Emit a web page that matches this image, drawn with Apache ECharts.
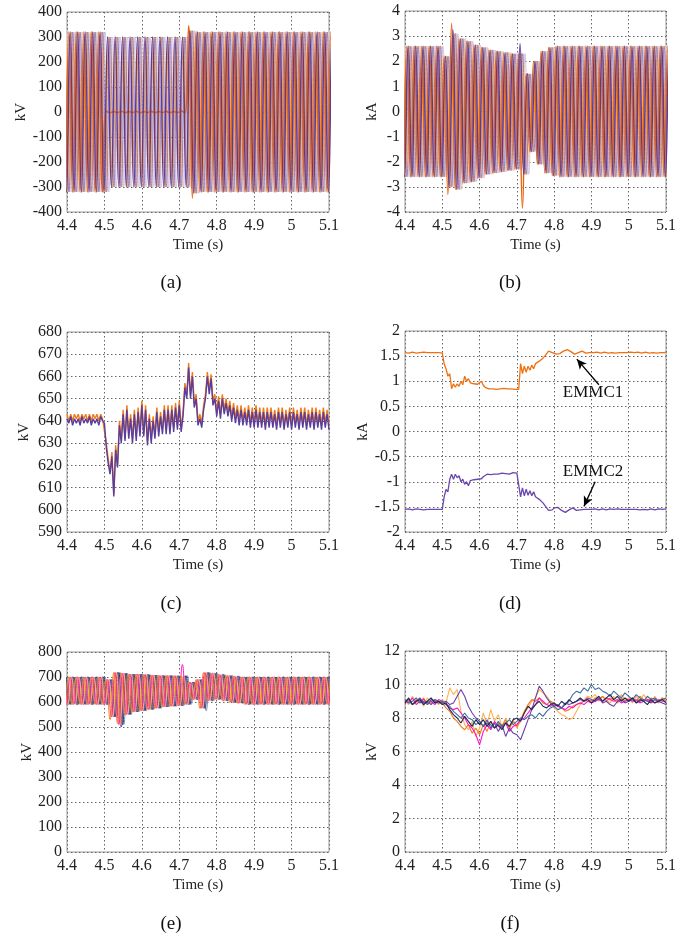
<!DOCTYPE html>
<html>
<head>
<meta charset="utf-8">
<script src="https://cdn.jsdelivr.net/npm/echarts@6/dist/echarts.min.js"></script>
<style>
  html, body { margin: 0; padding: 0; background: #fff; }
  #chart { width: 699px; height: 938px; }
</style>
</head>
<body>
<div id="chart"></div>
<script>
// ============================================
// Data
// ============================================
const xTicks = [4.4, 4.5, 4.6, 4.7, 4.8, 4.9, 5, 5.1];
const yTicksA = [-400, -300, -200, -100, 0, 100, 200, 300, 400];
const yTicksB = [-4, -3, -2, -1, 0, 1, 2, 3, 4];
const yTicksC = [590, 600, 610, 620, 630, 640, 650, 660, 670, 680];
const yTicksD = [-2, -1.5, -1, -0.5, 0, 0.5, 1, 1.5, 2];
const yTicksE = [0, 100, 200, 300, 400, 500, 600, 700, 800];
const yTicksF = [0, 2, 4, 6, 8, 10, 12];

// 50 Hz waveforms: peak values per cycle (35 cycles from 4.40 s to 5.10 s)
// (a) AC voltages, kV
const aPeak = [320, 320, 320, 320, 320, 300, 300, 300, 300, 300, 300, 300, 300, 300, 300, 300, 325,
    320, 320, 320, 320, 320, 320, 320, 320, 320, 320, 320, 320, 320, 320, 320, 320, 320, 320];
const aPeakFaulted = [320, 320, 320, 320, 320, 3, 2, 3, 2, 3, 2, 3, 2, 3, 2, 4, 345,
    320, 320, 320, 320, 320, 320, 320, 320, 320, 320, 320, 320, 320, 320, 320, 320, 320, 320];

// (b) AC currents, kA (upper / lower peaks per cycle)
const bUp = [2.6, 2.6, 2.6, 2.6, 2.6, 2.2, 3.1, 2.9, 2.8, 2.65, 2.55, 2.45, 2.4, 2.35, 2.3, 2.3, 1.5, 2.0, 2.4, 2.55,
    2.6, 2.6, 2.6, 2.6, 2.6, 2.6, 2.6, 2.6, 2.6, 2.6, 2.6, 2.6, 2.6, 2.6, 2.6];
const bLo = [-2.6, -2.6, -2.6, -2.6, -2.6, -3.0, -3.1, -2.85, -2.8, -2.65, -2.5, -2.45, -2.4, -2.35, -2.3, -2.5, -1.6, -2.1, -2.45, -2.55,
    -2.6, -2.6, -2.6, -2.6, -2.6, -2.6, -2.6, -2.6, -2.6, -2.6, -2.6, -2.6, -2.6, -2.6, -2.6];
const bUpOrange = [2.6, 2.6, 2.6, 2.6, 2.6, 2.2, 3.5, 2.9, 2.8, 2.65, 2.55, 2.45, 2.4, 2.35, 2.3, 2.3, 1.5, 2.0, 2.4, 2.55,
    2.6, 2.6, 2.6, 2.6, 2.6, 2.6, 2.6, 2.6, 2.6, 2.6, 2.6, 2.6, 2.6, 2.6, 2.6];
const bLoOrange = [-2.6, -2.6, -2.6, -2.6, -2.6, -3.3, -3.1, -2.85, -2.8, -2.65, -2.5, -2.45, -2.4, -2.35, -2.3, -3.85, -1.6, -2.1, -2.45, -2.55,
    -2.6, -2.6, -2.6, -2.6, -2.6, -2.6, -2.6, -2.6, -2.6, -2.6, -2.6, -2.6, -2.6, -2.6, -2.6];
const bUpPurple = [2.6, 2.6, 2.6, 2.6, 2.6, 2.2, 3.25, 2.9, 2.8, 2.65, 2.55, 2.45, 2.4, 2.35, 2.3, 2.7, 1.5, 2.0, 2.4, 2.55,
    2.6, 2.6, 2.6, 2.6, 2.6, 2.6, 2.6, 2.6, 2.6, 2.6, 2.6, 2.6, 2.6, 2.6, 2.6];

// (e) arm capacitor voltage sums, kV
const eUp = [700, 700, 700, 700, 700, 690, 718, 715, 712, 712, 710, 708, 706, 706, 705, 705, 680, 690, 718, 715, 710, 706, 703,
    700, 700, 700, 700, 700, 700, 700, 700, 700, 700, 700, 700];
const eLo = [590, 590, 590, 590, 590, 540, 510, 550, 560, 565, 570, 575, 580, 583, 585, 590, 610, 575, 605, 610, 605, 598, 595,
    590, 590, 590, 590, 590, 590, 590, 590, 590, 590, 590, 590];
const eUpMagenta = [700, 700, 700, 700, 700, 690, 718, 715, 712, 712, 710, 708, 706, 706, 705, 750, 680, 690, 718, 715, 710, 706, 703,
    700, 700, 700, 700, 700, 700, 700, 700, 700, 700, 700, 700];
const eLoPurple = [590, 590, 590, 590, 590, 540, 500, 550, 560, 565, 570, 575, 580, 583, 585, 590, 610, 575, 605, 610, 605, 598, 595,
    590, 590, 590, 590, 590, 590, 590, 590, 590, 590, 590, 590];
const eLoOrange = [590, 590, 590, 590, 590, 530, 515, 550, 560, 565, 570, 575, 580, 583, 585, 590, 610, 575, 605, 610, 605, 598, 595,
    590, 590, 590, 590, 590, 590, 590, 590, 590, 590, 590, 590];
const eLoSteel = [590, 590, 590, 590, 590, 540, 510, 550, 560, 565, 570, 575, 580, 583, 585, 590, 610, 565, 605, 610, 605, 598, 595,
    590, 590, 590, 590, 590, 590, 590, 590, 590, 590, 590, 590];

// (c) DC voltage, kV, every 5 ms
const cPurple = [641, 639, 642, 638, 641, 639, 641, 638, 642, 639, 641, 639, 642, 638, 641, 639, 641, 638, 642, 640,
    639, 628, 621, 616, 624, 606, 627, 619, 638, 630,
    643, 631, 645, 632, 641, 630, 643, 631, 644, 633,
    647, 633, 645, 629, 641, 630, 640, 632, 644, 633,
    642, 634, 645, 634, 645, 634, 645, 635, 646, 636,
    647, 635, 642, 655, 650, 664, 650, 660, 646, 650,
    638, 641, 637, 645, 650, 660, 652, 659, 647, 650,
    642, 649, 641, 650, 643, 648, 642, 647, 640, 646,
    639, 645, 638, 645, 638, 644, 638, 645, 637, 644,
    637, 645, 637, 644, 637, 644, 636, 644, 637, 644,
    637, 643, 636, 644, 637, 644, 636, 643, 637, 644,
    636, 644, 637, 643, 636, 644, 637, 644, 636, 643,
    637, 644, 636, 644, 637, 643, 636, 644, 637, 643, 636];
const cOrange = [643, 640, 643, 640, 643, 641, 643, 640, 643, 641, 643, 640, 643, 640, 643, 641, 643, 640, 643, 641,
    641, 630, 623, 617, 626, 607, 629, 620, 640, 632,
    645, 632, 647, 634, 643, 632, 645, 633, 646, 635,
    649, 634, 647, 631, 643, 632, 642, 634, 646, 635,
    644, 636, 647, 636, 647, 636, 647, 637, 648, 638,
    649, 637, 644, 657, 652, 666, 652, 662, 648, 652,
    640, 643, 639, 647, 652, 662, 654, 661, 649, 652,
    644, 651, 643, 652, 645, 650, 644, 649, 642, 648,
    641, 647, 640, 647, 640, 646, 640, 647, 639, 646,
    639, 647, 639, 646, 639, 646, 638, 646, 639, 646,
    639, 645, 638, 646, 639, 646, 638, 645, 639, 646,
    638, 646, 639, 645, 638, 646, 639, 646, 638, 645,
    639, 646, 638, 646, 639, 645, 638, 646, 639, 645, 638];

// (d) DC currents, kA, every 5 ms
const dEmmc1 = [1.57, 1.58, 1.56, 1.57, 1.58, 1.57, 1.56, 1.58, 1.57, 1.57, 1.58, 1.56, 1.57, 1.58, 1.57, 1.56, 1.57, 1.58, 1.57, 1.58,
    1.56, 1.35, 1.25, 1.10, 1.15, 0.85, 0.95, 0.88, 0.95, 0.90,
    1.00, 0.93, 1.10, 1.00, 1.05, 0.97, 1.00, 0.95, 0.96, 0.94,
    0.95, 1.00, 0.92, 0.88, 0.87, 0.85, 0.86, 0.85, 0.86, 0.84,
    0.86, 0.85, 0.84, 0.86, 0.84, 0.85, 0.83, 0.85, 0.83, 0.84,
    0.83, 0.84, 1.35, 1.15, 1.30, 1.18, 1.30, 1.22, 1.32, 1.25,
    1.35, 1.33, 1.40, 1.42, 1.46, 1.50, 1.55, 1.60, 1.59, 1.57,
    1.55, 1.54, 1.53, 1.55, 1.57, 1.60, 1.62, 1.63, 1.62, 1.59,
    1.56, 1.54, 1.55, 1.57, 1.59, 1.60, 1.58, 1.56, 1.56, 1.57,
    1.58, 1.57, 1.56, 1.58, 1.57, 1.56, 1.57, 1.58, 1.57, 1.56,
    1.58, 1.57, 1.57, 1.56, 1.58, 1.57, 1.56, 1.57, 1.58, 1.57,
    1.56, 1.58, 1.57, 1.57, 1.56, 1.58, 1.57, 1.56, 1.57, 1.58,
    1.57, 1.56, 1.58, 1.57, 1.57, 1.56, 1.58, 1.57, 1.56, 1.57, 1.58];
const dEmmc2 = [-1.55, -1.56, -1.54, -1.55, -1.56, -1.55, -1.54, -1.56, -1.55, -1.55, -1.56, -1.54, -1.55, -1.56, -1.55, -1.54, -1.55, -1.56, -1.55, -1.54,
    -1.55, -1.30, -1.15, -1.20, -0.95, -0.85, -0.95, -0.85, -0.92, -0.88,
    -1.00, -0.95, -1.05, -1.00, -1.08, -0.98, -1.00, -0.96, -0.98, -0.95,
    -0.98, -0.94, -0.90, -0.88, -0.85, -0.84, -0.86, -0.84, -0.85, -0.83,
    -0.85, -0.84, -0.83, -0.85, -0.84, -0.83, -0.85, -0.83, -0.82, -0.84,
    -0.83, -0.84, -1.30, -1.12, -1.28, -1.15, -1.27, -1.18, -1.28, -1.20,
    -1.30, -1.28, -1.35, -1.38, -1.42, -1.47, -1.52, -1.57, -1.60, -1.56,
    -1.52, -1.50, -1.51, -1.54, -1.57, -1.60, -1.61, -1.59, -1.56, -1.53,
    -1.52, -1.54, -1.57, -1.58, -1.56, -1.54, -1.55, -1.56, -1.55, -1.54,
    -1.55, -1.56, -1.54, -1.55, -1.56, -1.55, -1.54, -1.55, -1.56, -1.55,
    -1.54, -1.56, -1.55, -1.55, -1.54, -1.56, -1.55, -1.54, -1.55, -1.56,
    -1.55, -1.54, -1.55, -1.56, -1.55, -1.54, -1.56, -1.55, -1.55, -1.54,
    -1.56, -1.55, -1.54, -1.55, -1.56, -1.55, -1.54, -1.56, -1.55, -1.55, -1.54];

// (f) SM capacitor voltages, kV, every 10 ms
const fLightOrange = [9.0, 8.8, 9.3, 8.9, 9.1, 8.7, 9.2, 8.9, 9.0, 8.8,
    9.1, 8.9, 9.8, 9.4, 9.7, 8.4, 7.6, 7.3, 7.8, 6.9,
    7.4, 8.3, 7.6, 8.5, 7.8, 8.2, 7.5, 8.0, 7.3, 7.9,
    7.4, 7.8, 8.3, 8.6, 9.0, 9.2, 9.7, 9.5, 9.3, 9.0,
    8.6, 8.4, 8.2, 8.1, 7.9, 8.0, 8.4, 8.8, 9.1, 9.3,
    9.2, 9.4, 9.0, 9.3, 9.1, 8.9, 9.3, 9.0, 9.4, 9.1,
    9.2, 8.9, 9.3, 9.0, 9.4, 9.1, 8.9, 9.3, 9.0, 9.2, 9.1];
const fOrange = [9.1, 9.0, 8.8, 9.1, 8.9, 9.2, 8.8, 9.0, 9.1, 8.9,
    8.9, 8.6, 8.4, 8.0, 7.8, 7.5, 7.3, 7.6, 7.1, 7.4,
    7.0, 7.6, 7.2, 7.8, 7.4, 7.7, 7.5, 7.9, 7.4, 7.8,
    7.5, 7.9, 8.4, 8.8, 9.1, 9.0, 9.2, 8.9, 8.8, 9.0,
    8.9, 8.7, 8.6, 8.4, 8.5, 8.7, 8.8, 8.9, 9.0, 9.1,
    9.0, 9.2, 9.1, 9.3, 9.0, 9.2, 9.1, 8.9, 9.2, 9.0,
    9.1, 9.2, 9.0, 9.3, 9.1, 9.0, 9.2, 9.1, 8.9, 9.2, 9.0];
const fMagenta = [9.0, 8.9, 9.2, 8.8, 9.0, 9.1, 8.9, 9.0, 8.8, 9.1,
    9.0, 8.8, 8.6, 8.5, 8.6, 8.3, 8.0, 7.6, 7.4, 7.0,
    6.4, 7.2, 7.6, 7.3, 7.8, 7.5, 7.4, 7.7, 7.2, 7.5,
    7.6, 7.9, 8.0, 8.3, 8.6, 8.8, 9.2, 9.0, 8.8, 8.7,
    8.8, 8.7, 8.6, 8.5, 8.7, 8.6, 8.8, 8.9, 8.8, 9.0,
    8.9, 9.0, 9.1, 9.0, 9.2, 9.1, 9.0, 9.1, 8.9, 9.0,
    9.1, 9.0, 9.1, 8.9, 9.0, 9.1, 9.0, 8.9, 9.1, 9.0, 9.0];
const fPurple = [9.0, 9.1, 8.8, 9.0, 9.2, 8.9, 9.0, 8.8, 9.1, 9.0,
    8.9, 9.0, 8.8, 8.9, 9.3, 9.7, 9.3, 8.7, 8.3, 8.0,
    7.8, 7.5, 7.9, 7.4, 7.7, 7.2, 7.6, 6.9, 7.4, 7.1,
    7.0, 6.7, 7.3, 7.9, 8.5, 9.2, 9.9, 9.6, 9.2, 8.9,
    8.7, 8.8, 8.6, 8.9, 8.8, 8.9, 9.0, 9.1, 9.0, 9.2,
    9.1, 9.0, 9.2, 8.9, 9.0, 8.8, 8.7, 9.0, 9.1, 8.9,
    9.0, 9.1, 8.9, 9.0, 9.1, 9.0, 8.9, 9.1, 9.0, 8.9, 8.8];
const fNavy = [8.9, 9.2, 8.8, 9.0, 9.1, 8.8, 9.0, 9.2, 8.9, 9.0,
    8.8, 8.9, 8.5, 8.2, 8.0, 7.7, 8.1, 7.8, 7.5, 7.9,
    7.6, 7.9, 7.5, 7.8, 7.4, 7.6, 7.3, 7.7, 7.5, 7.9,
    8.0, 7.8, 8.3, 8.7, 8.5, 8.8, 9.0, 8.7, 8.6, 8.8,
    8.9, 8.7, 9.0, 8.8, 9.1, 8.9, 9.0, 9.2, 9.0, 9.1,
    8.9, 9.1, 9.3, 9.0, 9.2, 9.4, 9.1, 9.3, 9.0, 9.2,
    9.0, 9.2, 8.9, 9.1, 9.0, 8.8, 9.1, 8.9, 9.0, 9.1, 8.9];
const fSteel = [9.1, 8.9, 9.0, 9.2, 8.9, 9.0, 8.8, 9.1, 9.0, 8.9,
    9.0, 8.8, 8.7, 8.4, 8.2, 8.0, 8.3, 8.0, 7.9, 7.6,
    7.8, 7.5, 7.7, 7.6, 7.4, 7.8, 7.5, 7.7, 7.9, 7.6,
    7.8, 8.0, 7.9, 8.1, 8.2, 8.0, 8.3, 8.1, 8.4, 8.6,
    8.7, 8.5, 8.6, 8.8, 9.0, 9.4, 9.6, 9.5, 9.8, 9.6,
    10.0, 9.7, 9.8, 9.6, 9.5, 9.3, 9.6, 9.4, 9.2, 9.5,
    9.3, 9.1, 9.4, 9.2, 9.0, 9.3, 9.1, 9.2, 9.0, 9.1, 9.2];

// ============================================
// Helpers
// ============================================
const T0 = 4.4;
const PERIOD = 0.02;
const t5 = Array.from({ length: 141 }, (_, i) => +(T0 + i * 0.005).toFixed(3));
const t10 = Array.from({ length: 71 }, (_, i) => +(T0 + i * 0.01).toFixed(2));

function pair(ts, vs) {
    return ts.map((t, i) => [t, vs[i]]);
}

// one point per positive/negative peak; lo omitted means symmetric about 0
function wave(up, lo, phase) {
    const pts = [];
    for (let k = -1; k <= up.length; k++) {
        const j = Math.min(Math.max(k, 0), up.length - 1);
        const t = T0 + k * PERIOD + phase;
        pts.push([t + PERIOD / 4, up[j]]);
        pts.push([t + 3 * PERIOD / 4, lo ? lo[j] : -up[j]]);
    }
    return pts;
}

const FONT = '"Liberation Serif", "Times New Roman", serif';

const boxes = [
    { left: 67, top: 12, width: 262, height: 200 },
    { left: 405, top: 11, width: 261, height: 201 },
    { left: 67, top: 332, width: 262, height: 200 },
    { left: 405, top: 331, width: 261, height: 201 },
    { left: 67, top: 652, width: 262, height: 200 },
    { left: 405, top: 651, width: 261, height: 201 }
];

const yDefs = [
    { ticks: yTicksA, name: 'kV', gap: 35 },
    { ticks: yTicksB, name: 'kA', gap: 25 },
    { ticks: yTicksC, name: 'kV', gap: 35 },
    { ticks: yTicksD, name: 'kA', gap: 34 },
    { ticks: yTicksE, name: 'kV', gap: 32 },
    { ticks: yTicksF, name: 'kV', gap: 25 }
];

const gridLine = { show: true, lineStyle: { color: '#666', width: 1, type: [1.5, 2.5] } };

const grids = boxes.map(b => Object.assign({ show: true, borderColor: '#9a9a9a', borderWidth: 1, backgroundColor: '#fff' }, b));

const xAxes = boxes.map((b, i) => ({
    type: 'value',
    gridIndex: i,
    min: xTicks[0],
    max: xTicks[xTicks.length - 1],
    interval: 0.1,
    name: 'Time (s)',
    nameLocation: 'middle',
    nameGap: 26,
    nameTextStyle: { fontFamily: FONT, fontSize: 15, color: '#222' },
    axisLine: { show: false },
    axisTick: { show: false },
    splitLine: gridLine,
    axisLabel: {
        fontFamily: FONT, fontSize: 16, color: '#222', margin: 6,
        formatter: v => String(+v.toFixed(1))
    }
}));

const yAxes = yDefs.map((d, i) => ({
    type: 'value',
    gridIndex: i,
    min: d.ticks[0],
    max: d.ticks[d.ticks.length - 1],
    interval: d.ticks[1] - d.ticks[0],
    name: d.name,
    nameLocation: 'middle',
    nameGap: d.gap,
    nameTextStyle: { fontFamily: FONT, fontSize: 15, color: '#222' },
    axisLine: { show: false },
    axisTick: { show: false },
    splitLine: gridLine,
    axisLabel: { fontFamily: FONT, fontSize: 16, color: '#222', margin: 5 }
}));

function line(idx, data, color, width, smooth) {
    return {
        type: 'line',
        xAxisIndex: idx,
        yAxisIndex: idx,
        data: data,
        showSymbol: false,
        symbol: 'none',
        smooth: smooth ? 0.5 : false,
        clip: true,
        lineStyle: { color: color, width: width },
        silent: true
    };
}

const OR1 = '#e8620c', OR2 = '#f59a3c', OR3 = '#ffcf9c';
const PU1 = '#5a3a9a', PU2 = '#9482c6', PU3 = '#cfc6e8';
const P3 = PERIOD / 3;
const WW = 1.0;

const series = [
    // (a)
    line(0, wave(aPeak, null, 2 * P3), OR3, WW, true),
    line(0, wave(aPeak, null, 2 * P3 + 0.0035), PU3, WW, true),
    line(0, wave(aPeak, null, P3), OR2, WW, true),
    line(0, wave(aPeak, null, P3 + 0.0035), PU2, WW, true),
    line(0, wave(aPeakFaulted, null, 0), OR1, 1.5, true),
    line(0, wave(aPeak, null, 0.0035), PU1, 1.5, true),
    // (b)
    line(1, wave(bUp, bLo, 2 * P3), OR3, WW, true),
    line(1, wave(bUp, bLo, 2 * P3 + 0.0035), PU3, WW, true),
    line(1, wave(bUp, bLo, P3), OR2, WW, true),
    line(1, wave(bUp, bLo, P3 + 0.0035), PU2, WW, true),
    line(1, wave(bUpOrange, bLoOrange, 0), OR1, 1.5, true),
    line(1, wave(bUpPurple, bLo, 0.0035), PU1, 1.5, true),
    // (c)
    line(2, pair(t5, cOrange), '#f07a1a', 1.4, false),
    line(2, pair(t5, cPurple), '#5b3d9c', 1.4, false),
    // (d)
    line(3, pair(t5, dEmmc1), '#f0700f', 1.3, false),
    line(3, pair(t5, dEmmc2), '#6a48b0', 1.3, false),
    // (e)
    line(4, wave(eUp, eLoSteel, 5 * PERIOD / 6), '#6f8fb0', WW, true),
    line(4, wave(eUp, eLo, 4 * PERIOD / 6), '#2b3a67', WW, true),
    line(4, wave(eUp, eLoPurple, 3 * PERIOD / 6), '#6a3fa8', WW, true),
    line(4, wave(eUp, eLo, 2 * PERIOD / 6), '#ffb74d', WW, true),
    line(4, wave(eUpMagenta, eLo, PERIOD / 6), '#ff1fbf', WW, true),
    line(4, wave(eUp, eLoOrange, 0), '#f57f17', WW, true),
    // (f)
    line(5, pair(t10, fLightOrange), '#ffb050', 1.1, false),
    line(5, pair(t10, fOrange), '#f07820', 1.1, false),
    line(5, pair(t10, fMagenta), '#ff10d0', 1.1, false),
    line(5, pair(t10, fPurple), '#6a40aa', 1.1, false),
    line(5, pair(t10, fSteel), '#3f6f9f', 1.1, false),
    line(5, pair(t10, fNavy), '#1e2a55', 1.1, false)
];

// EMMC arrows in (d)
const arrowStyle = { color: '#000', width: 1.3, type: 'solid' };
series.push({
    type: 'line', xAxisIndex: 3, yAxisIndex: 3, data: [], silent: true,
    markLine: {
        silent: true, symbol: ['none', 'arrow'], symbolSize: [7, 10], animation: false,
        lineStyle: arrowStyle, label: { show: false },
        data: [
            [{ coord: [4.920, 0.93] }, { coord: [4.861, 1.44] }],
            [{ coord: [4.910, -1.00] }, { coord: [4.880, -1.49] }]
        ]
    }
});

const panelLabels = ['(a)', '(b)', '(c)', '(d)', '(e)', '(f)'];
const labelPos = [[171, 283], [510, 283], [171, 604], [510, 604], [171, 924], [510, 924]];

const graphics = panelLabels.map((t, i) => ({
    type: 'text',
    x: labelPos[i][0], y: labelPos[i][1],
    style: { text: t, font: '19px ' + FONT, fill: '#111', textAlign: 'center', textVerticalAlign: 'middle' }
}));
graphics.push(
    { type: 'text', x: 593, y: 393, style: { text: 'EMMC1', font: '17px ' + FONT, fill: '#111', textAlign: 'center', textVerticalAlign: 'middle' } },
    { type: 'text', x: 593, y: 472, style: { text: 'EMMC2', font: '17px ' + FONT, fill: '#111', textAlign: 'center', textVerticalAlign: 'middle' } }
);

const chart = echarts.init(document.getElementById('chart'), null, { renderer: 'canvas' });
chart.setOption({
    animation: false,
    backgroundColor: '#fff',
    grid: grids,
    xAxis: xAxes,
    yAxis: yAxes,
    series: series,
    graphic: graphics
});
</script>
</body>
</html>
